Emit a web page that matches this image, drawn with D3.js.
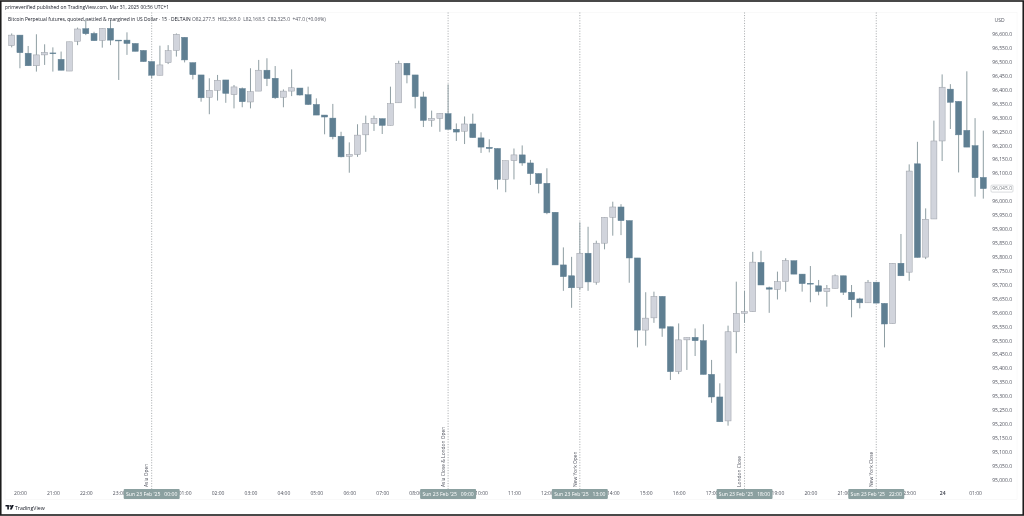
<!DOCTYPE html>
<html>
<head>
<meta charset="utf-8">
<title>BTC perpetual 15m</title>
<script src="https://cdn.jsdelivr.net/npm/d3@7"></script>
<style>
  html, body { margin: 0; padding: 0; background: #fff; }
  svg { display: block; font-family: "Open Sans", Roboto, sans-serif; filter: blur(0.25px); }
  .axis path, .axis line { display: none; }
  .axis text { fill: #50535e; font-size: 5px; font-family: "Open Sans", Roboto, sans-serif; }
</style>
</head>
<body>
<svg id="chart" width="1024" height="516"></svg>
<script>
// 15 minute candles, first bar is 19:45 on Sat 22 Feb 2025
const opens = [96558,96596,96531,96486,96525,96532,96509,96467,96574,96619,96602,96577,96620,96578,96578,96566,96541,96501,96452,96497,
  96541,96588,96497,96453,96373,96398,96435,96382,96404,96356,96395,96470,96441,96373,96395,96406,96382,96347,96309,96298,
  96233,96161,96167,96238,96279,96296,96272,96353,96495,96453,96374,96290,96297,96314,96258,96251,96277,96227,96193,96189,
  96078,96145,96166,96137,96099,96064,95960,95771,95732,95689,95813,95709,95849,95942,95979,95930,95796,95537,95581,95658,
  95549,95388,95502,95511,95499,95378,95297,95211,95531,95597,95603,95780,95689,95683,95711,95786,95738,95705,95696,95675,
  95687,95732,95673,95649,95635,95709,95633,95560,95777,95745,96134,95799,95936,96216,96402,96358,96254,96199,96085];
const highs = [96602,96596,96557,96599,96563,96552,96537,96572,96623,96656,96608,96620,96650,96578,96606,96566,96541,96501,96558,96560,
  96602,96588,96497,96453,96441,96453,96435,96417,96408,96477,96507,96513,96485,96401,96473,96406,96411,96369,96309,96349,
  96249,96211,96276,96307,96307,96296,96411,96504,96495,96453,96393,96325,96315,96419,96279,96304,96314,96247,96222,96189,
  96145,96189,96200,96148,96099,96118,95960,95834,95800,95924,95908,95858,95942,95998,95989,95930,95796,95673,95675,95658,
  95549,95561,95510,95543,95558,95430,95346,95553,95711,95678,95818,95822,95693,95747,95795,95786,95738,95767,95717,95699,
  95737,95732,95699,95653,95717,95709,95633,95777,95882,96132,96213,95974,96289,96455,96420,96358,96466,96298,96253];
const lows = [96552,96477,96486,96465,96489,96465,96470,96467,96560,96596,96576,96551,96560,96435,96525,96538,96501,96441,96452,96492,
  96519,96498,96437,96357,96312,96361,96353,96333,96337,96333,96395,96413,96367,96337,96377,96379,96345,96309,96240,96222,
  96157,96102,96159,96177,96252,96241,96272,96353,96423,96333,96266,96267,96249,96258,96216,96205,96228,96173,96175,96042,
  96032,96078,96127,96058,96028,95953,95771,95678,95617,95681,95678,95700,95827,95876,95878,95707,95475,95481,95563,95513,
  95358,95379,95394,95444,95378,95276,95208,95194,95454,95563,95603,95699,95599,95647,95675,95738,95675,95637,95662,95621,
  95687,95663,95583,95615,95635,95634,95475,95560,95732,95714,95798,95792,95936,96144,96259,96103,96194,96016,96009];
const closes = [96596,96533,96486,96525,96534,96530,96470,96572,96618,96601,96576,96620,96578,96577,96566,96538,96501,96452,96489,96540,
  96599,96507,96454,96371,96398,96434,96387,96410,96357,96393,96470,96440,96371,96395,96407,96381,96347,96309,96302,96231,
  96159,96168,96237,96279,96297,96272,96350,96495,96453,96375,96290,96297,96315,96258,96248,96277,96228,96194,96189,96078,
  96145,96166,96137,96099,96063,95958,95771,95729,95689,95813,95710,95849,95942,95979,95930,95796,95537,95580,95658,95544,
  95388,95502,95510,95499,95378,95297,95208,95531,95597,95603,95781,95699,95684,95711,95787,95738,95704,95704,95676,95687,
  95732,95673,95646,95635,95709,95634,95559,95777,95732,96108,95798,95935,96216,96409,96355,96238,96194,96084,96045];

const priceTicks = d3.range(95000, 96601, 50);
const lastPrice = 96045;

const firstBar = new Date(Date.UTC(2025, 1, 22, 19, 45));
const lastBar = new Date(Date.UTC(2025, 1, 24, 1, 15));
const hourTicks = d3.utcHours(new Date(Date.UTC(2025, 1, 22, 20)), new Date(Date.UTC(2025, 1, 24, 2)));

const sessions = ["Asia Open", "Asia Close & London Open", "New York Open", "London Close", "New York Close"];
const sessionHours = [0, 9, 13, 18, 22];
const sessionLabels = ["Sun 23 Feb '25   00:00", "Sun 23 Feb '25   09:00", "Sun 23 Feb '25   13:00", "Sun 23 Feb '25   18:00", "Sun 23 Feb '25   22:00"];

const titleLine = "primeverified published on TradingView.com, Mar 31, 2025 00:56 UTC+1";
const symbolLine = "Bitcoin Perpetual futures, quoted, settled & margined in US Dollar · 15 · DELTAIN";
const ohlcLine = "O82,277.5  H82,365.0  L82,168.5  C82,325.0  +47.0 (+0.06%)";

const darkBody = "#5f7f92", lightBody = "#d1d4dc", lightEdge = "#9a9ea6", wickColor = "#8f9ea3";

const svg = d3.select("#chart");
const y = d3.scaleLinear().domain([95000, 96600]).range([479.7, 34]);
const x = d3.scaleTime().domain([firstBar, lastBar]).range([11.7, 983.3]);
const barTime = i => d3.utcMinute.offset(firstBar, i * 15);
const bodyWidth = 6;

// pane edges, very faint
svg.append("rect").attr("x", 5).attr("y", 12.5).attr("width", 1012).attr("height", 487)
  .attr("fill", "none").attr("stroke", "#f4f4f4").attr("stroke-width", 0.5);

// session markers
const sessionTime = h => new Date(Date.UTC(2025, 1, 23, h));
svg.selectAll("line.session").data(sessionHours).enter().append("line")
  .attr("class", "session")
  .attr("x1", d => x(sessionTime(d))).attr("x2", d => x(sessionTime(d)))
  .attr("y1", 12.5).attr("y2", 489)
  .attr("stroke", "#8e9296").attr("stroke-width", 0.8).attr("stroke-dasharray", "1 1.6");

svg.selectAll("text.session").data(sessions).enter().append("text")
  .attr("class", "session")
  .attr("transform", (d, i) => `translate(${x(sessionTime(sessionHours[i])) - 3.2},487) rotate(-90)`)
  .attr("font-size", 4.9).attr("fill", "#50535e")
  .text(d => d);

// candles
const idx = d3.range(opens.length);
svg.append("g").selectAll("line").data(idx).enter().append("line")
  .attr("x1", i => x(barTime(i))).attr("x2", i => x(barTime(i)))
  .attr("y1", i => y(highs[i])).attr("y2", i => y(lows[i]))
  .attr("stroke", wickColor).attr("stroke-width", 1);

svg.append("g").selectAll("rect").data(idx).enter().append("rect")
  .attr("x", i => x(barTime(i)) - bodyWidth / 2)
  .attr("width", bodyWidth)
  .attr("y", i => y(Math.max(opens[i], closes[i])))
  .attr("height", i => Math.max(0.8, Math.abs(y(opens[i]) - y(closes[i]))))
  .attr("fill", i => closes[i] < opens[i] ? darkBody : lightBody)
  .attr("stroke", i => closes[i] < opens[i] ? darkBody : lightEdge)
  .attr("stroke-width", 0.5);

// axes
svg.append("g").attr("class", "axis").attr("transform", "translate(1012,0)")
  .call(d3.axisLeft(y).tickValues(priceTicks.filter(d => d !== 96050)).tickSize(0).tickPadding(0).tickFormat(d3.format(",.1f")));

svg.append("text").attr("x", 994.5).attr("y", 21.5).attr("font-size", 5).attr("fill", "#50535e").text("USD");

// the hours under a session pill are covered in the reference, leave them out
const pillTimes = sessionHours.map(h => +sessionTime(h));
const timeFmt = d3.utcFormat("%H:%M");
svg.append("g").attr("class", "axis").attr("transform", "translate(0,491)")
  .call(d3.axisBottom(x).tickValues(hourTicks.filter(d => !pillTimes.includes(+d))).tickSize(0).tickPadding(0)
    .tickFormat(d => timeFmt(d) === "00:00" ? d.getUTCDate() : timeFmt(d)))
  .selectAll("text").filter(d => d.getUTCDate() === 24 && d.getUTCHours() === 0)
  .attr("font-weight", 700);

// last price box
svg.append("rect").attr("x", 991).attr("y", y(lastPrice) - 3.5).attr("width", 22).attr("height", 7)
  .attr("fill", "#fff").attr("stroke", "#b4b8bc").attr("stroke-width", 0.5).attr("rx", 1);
svg.append("text").attr("x", 1012).attr("y", y(lastPrice) + 1.8).attr("text-anchor", "end")
  .attr("font-size", 5).attr("fill", "#7c8086").text(d3.format(",.1f")(lastPrice));

// time pills on top of the axis
const pills = svg.append("g").selectAll("g").data(sessionHours).enter().append("g")
  .attr("transform", d => `translate(${x(sessionTime(d))},489)`);
pills.append("rect").attr("x", -28).attr("width", 56).attr("height", 10).attr("rx", 1).attr("fill", "#8ba0a0");
pills.append("text").attr("y", 6.8).attr("text-anchor", "middle").attr("font-size", 5.1).attr("fill", "#fff")
  .style("white-space", "pre")
  .text((d, i) => sessionLabels[i]);

// header
svg.append("text").attr("x", 5).attr("y", 9).attr("font-size", 4.9).attr("fill", "#131722").text(titleLine);
svg.append("text").attr("x", 8).attr("y", 20.5).attr("font-size", 4.9).attr("fill", "#131722").text(symbolLine);
svg.append("text").attr("x", 192).attr("y", 20.5).attr("font-size", 4.9).attr("fill", "#50535e")
  .style("white-space", "pre").text(ohlcLine);

// tradingview mark, bottom left
const logo = svg.append("g").attr("transform", "translate(5.5,505)").attr("fill", "#131722");
logo.append("path").attr("d", "M0 0H3.4V4.6H1.8V1.6H0Z");
logo.append("circle").attr("cx", 4.7).attr("cy", 0.9).attr("r", 0.9);
logo.append("path").attr("d", "M6.2 0H8.3L6.3 4.6H4.3Z");
svg.append("text").attr("x", 15).attr("y", 509.5).attr("font-size", 5.2).attr("fill", "#131722").text("TradingView");

// outer frame
svg.append("rect").attr("x", 0.75).attr("y", 1).attr("width", 1022.5).attr("height", 514)
  .attr("fill", "none").attr("stroke", "#1c1c1c").attr("stroke-width", 1.6);
</script>
</body>
</html>
